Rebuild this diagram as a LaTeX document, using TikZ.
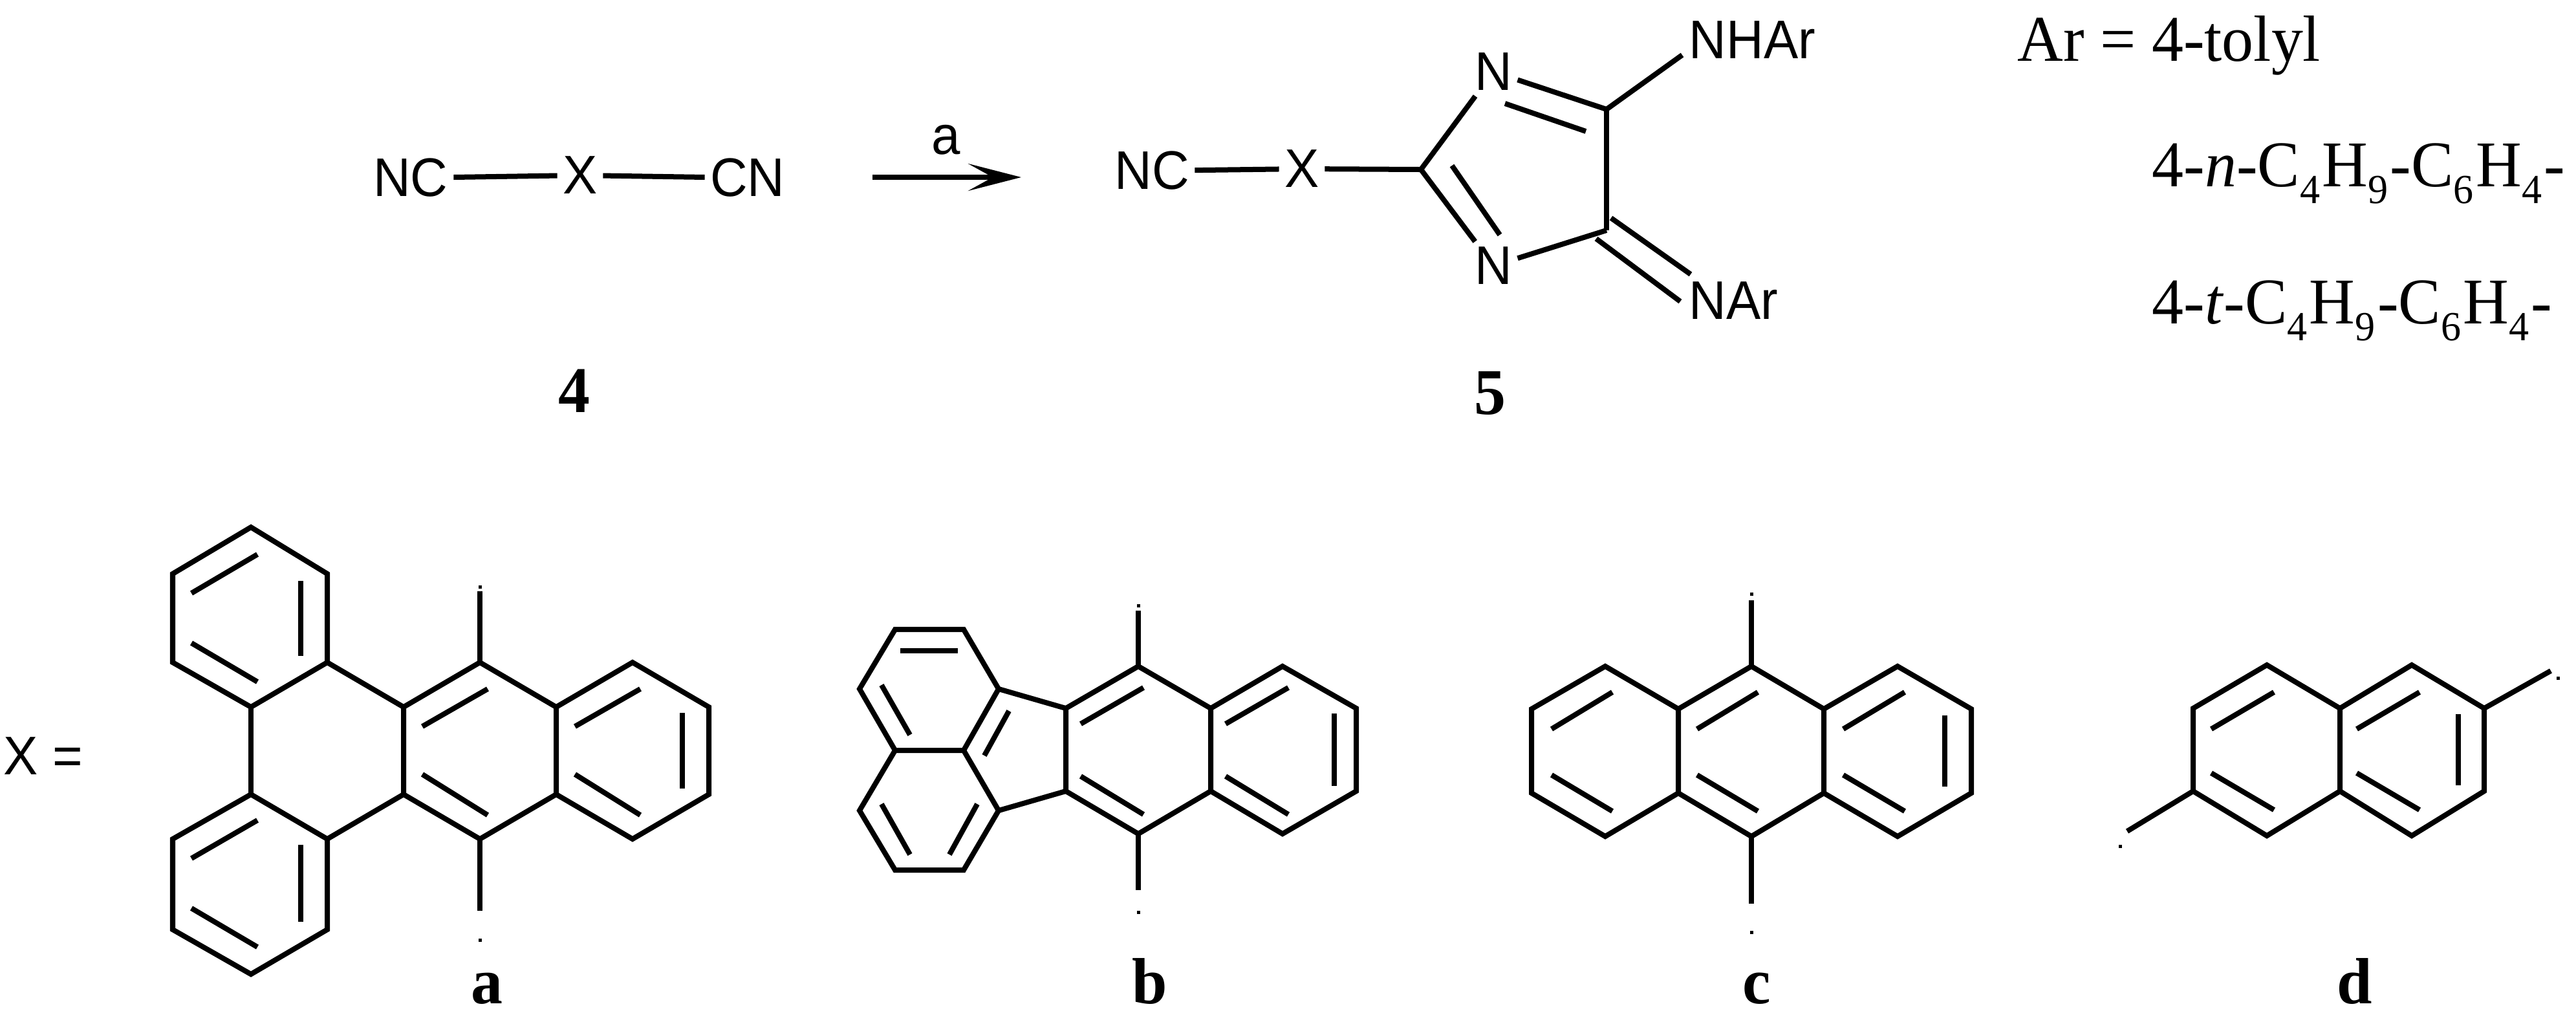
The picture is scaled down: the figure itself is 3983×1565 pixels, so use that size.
\documentclass[tikz,border=0pt]{standalone}
\usepackage{fontspec}
\usetikzlibrary{arrows.meta,calc}
\newfontfamily\chemfam[FakeStretch=0.95]{Liberation Sans}
\newfontfamily\textfam[FakeStretch=0.97]{Liberation Serif}
\newcommand{\subnum}[1]{\raisebox{-7.6pt}{\fontsize{18.2}{18}\selectfont #1}\kern1pt}
\tikzset{%
	bond/.style     	= {line width = 0.08cm, line join = miter, miter limit = 10},
	atom/.style     	= {font = \chemfam\fontsize{23.9}{24}\selectfont, inner sep = 0.08cm},
	formula/.style  	= {font = \textfam\fontsize{28.7}{29}\selectfont, inner sep = 0, anchor = base west},
	compound/.style 	= {font = \textfam\bfseries\fontsize{28.7}{29}\selectfont, inner sep = 0, anchor = base},
	tip/.style      	= {fill, inner sep = 0, minimum size = 0.05cm} % Dot at the end of a free bond
}

\begin{document}
\begin{tikzpicture}[x=0.01cm, y=-0.01cm]
	\useasboundingbox (0,0) rectangle (3983,1565);

	% Reaction line : 4 --> 5
	\node [atom] (nc4) at (635,275) {NC};
	\node [atom] (x4) at (897,271) {X};
	\node [atom] (cn4) at (1156,275) {CN};
	\draw[bond] (nc4) -- (x4);
	\draw[bond] (x4) -- (cn4);
	\node [compound] (label4) at (888,637) {4};
	\coordinate (arrowstart) at (1349,274);
	\coordinate (arrowend) at (1579,274);
	\draw[bond, -{Stealth[length=0.82cm, width=0.42cm, inset=0.38cm]}] (arrowstart) -- (arrowend);
	\node [atom, anchor=base, inner sep=0] (reagent) at (1463,238) {a};

	% Product 5
	\coordinate (c2) at (2197,262);
	\coordinate (c4) at (2484,169);
	\coordinate (c5) at (2484,356);
	\node [atom] (nc5) at (1781,264) {NC};
	\node [atom] (x5) at (2013,261) {X};
	\node [atom] (n1) at (2309,111) {N};
	\node [atom] (n3) at (2309,411) {N};
	\node [atom, anchor=base west, inner sep=0] (nhar) at (2611,90) {NHAr};
	\node [atom, anchor=base west, inner sep=0] (nar) at (2611,493) {NAr};
	\coordinate (nharend) at (2601,85);
	\coordinate (narenda) at (2614,424);
	\coordinate (narendb) at (2598,466);
	\coordinate (c5a) at (2491,337);
	\coordinate (c5b) at (2468,369);
	\coordinate (n1in) at (2327,160);
	\coordinate (c4in) at (2452,203);
	\coordinate (c2in) at (2245,256);
	\coordinate (n3in) at (2319,363);
	\draw[bond] (nc5) -- (x5);
	\draw[bond] (x5) -- (c2);
	\draw[bond] (c2) -- (n1);
	\draw[bond] (c2) -- (n3);
	\draw[bond] (n1) -- (c4);
	\draw[bond] (n3) -- (c5);
	\draw[bond] (c4) -- (c5);
	\draw[bond] (c4) -- (nharend);
	\draw[bond] (c5a) -- (narenda);
	\draw[bond] (c5b) -- (narendb);
	\draw[bond] (n1in) -- (c4in);
	\draw[bond] (c2in) -- (n3in);
	\node [compound] (label5) at (2304,640) {5};

	% Meanings of Ar
	\node [formula] (ar1) at (3119,94) {Ar = 4-tolyl};
	\node [formula] (ar2) at (3327,288) {4-\textit{n}-C\subnum{4}H\subnum{9}-C\subnum{6}H\subnum{4}-};
	\node [formula] (ar3) at (3327,500) {4-\textit{t}-C\subnum{4}H\subnum{9}-C\subnum{6}H\subnum{4}-};
	\node [atom, anchor=base west, inner sep=0] (xis) at (5,1197) {X =};

	% Atoms of a, b, c and d
	\foreach \n/\px/\py in {
		a1/388/815, a2/506/887, a3/506/1024, a4/388/1093, a5/267/1024, a6/267/887,
		a7/624/1093, a8/742/1024, a9/860/1093, a10/860/1228, a11/742/1297, a12/624/1228,
		a13/978/1024, a14/1096/1093, a15/1096/1228, a16/978/1297,
		a17/388/1228, a18/506/1297, a19/506/1437, a20/388/1506, a21/267/1437, a22/267/1297,
		a23/742/914, a24/742/1408,
		b1/1384/973, b2/1490/973, b3/1544/1065, b4/1490/1160, b5/1384/1160, b6/1329/1065,
		b7/1329/1253, b8/1384/1345, b9/1490/1345, b10/1544/1253,
		b11/1648/1095, b12/1760/1030, b13/1872/1095, b14/1872/1223, b15/1760/1289, b16/1648/1223,
		b17/1983/1030, b18/2097/1095, b19/2097/1223, b20/1983/1289, b21/1760/944, b22/1760/1376,
		c1/2482/1030, c2a/2595/1096, c3/2595/1226, c4a/2482/1293, c5c/2368/1226, c6/2368/1096,
		c7/2708/1030, c8/2820/1096, c9/2820/1226, c10/2708/1293,
		c11/2934/1030, c12/3048/1096, c13/3048/1226, c14/2934/1293, c15/2708/928, c16/2708/1397,
		d1/3505/1028, d2/3618/1095, d3/3618/1223, d4/3505/1292, d5/3391/1223, d6/3391/1095,
		d7/3729/1028, d8/3841/1095, d9/3841/1223, d10/3729/1292, d11/3289/1285, d12/3944/1037}
		\coordinate (\n) at (\px,\py);

	% Joining atoms. Closed rings are drawn as one path
	\draw[bond] (a1) -- (a2) -- (a3) -- (a4) -- (a5) -- (a6) -- cycle;
	\draw[bond] (a17) -- (a18) -- (a19) -- (a20) -- (a21) -- (a22) -- cycle;
	\draw[bond] (a8) -- (a9) -- (a10) -- (a11) -- (a12) -- (a7) -- cycle;
	\draw[bond] (a9) -- (a13) -- (a14) -- (a15) -- (a16) -- (a10);
	\draw[bond] (a3) -- (a7);
	\draw[bond] (a4) -- (a17);
	\draw[bond] (a18) -- (a12);
	\draw[bond] (a8) -- (a23);
	\draw[bond] (a11) -- (a24);
	\draw[bond] (b1) -- (b2) -- (b3) -- (b4) -- (b5) -- (b6) -- cycle;
	\draw[bond] (b5) -- (b7) -- (b8) -- (b9) -- (b10) -- (b4);
	\draw[bond] (b3) -- (b11);
	\draw[bond] (b10) -- (b16);
	\draw[bond] (b11) -- (b12) -- (b13) -- (b14) -- (b15) -- (b16) -- cycle;
	\draw[bond] (b13) -- (b17) -- (b18) -- (b19) -- (b20) -- (b14);
	\draw[bond] (b12) -- (b21);
	\draw[bond] (b15) -- (b22);
	\draw[bond] (c1) -- (c2a) -- (c3) -- (c4a) -- (c5c) -- (c6) -- cycle;
	\draw[bond] (c2a) -- (c7) -- (c8) -- (c9) -- (c10) -- (c3);
	\draw[bond] (c8) -- (c11) -- (c12) -- (c13) -- (c14) -- (c9);
	\draw[bond] (c7) -- (c15);
	\draw[bond] (c10) -- (c16);
	\draw[bond] (d1) -- (d2) -- (d3) -- (d4) -- (d5) -- (d6) -- cycle;
	\draw[bond] (d2) -- (d7) -- (d8) -- (d9) -- (d10) -- (d3);
	\draw[bond] (d5) -- (d11);
	\draw[bond] (d8) -- (d12);

	% Inner lines of the double bonds
	\foreach \n/\xa/\ya/\xb/\yb in {
		aa/296/917/398/857, ab/296/994/398/1054, ac/465/898/465/1014,
		ad/653/1123/754/1065, ae/653/1197/754/1260, af/889/1123/990/1065,
		ag/889/1197/990/1260, ah/1055/1102/1055/1219,
		ai/296/1327/398/1268, aj/296/1404/398/1464, ak/465/1306/465/1425,
		ba/1392/1006/1481/1006, bb/1363/1059/1407/1136, bc/1560/1099/1522/1168,
		bd/1363/1243/1407/1321, be/1511/1243/1468/1321, bf/1671/1119/1768/1063,
		bg/1671/1200/1768/1259, bh/1895/1119/1992/1063, bi/1895/1200/1992/1259,
		bj/2063/1103/2063/1215,
		ca/2399/1127/2493/1070, cb/2399/1198/2493/1254, cc/2624/1127/2718/1070,
		cd/2624/1198/2718/1254, ce/2850/1127/2945/1070, cf/2850/1198/2945/1254,
		cg/3007/1106/3007/1216,
		da/3419/1127/3516/1070, db/3419/1195/3516/1252, dc/3644/1127/3741/1070,
		dd/3644/1195/3741/1252, de/3801/1104/3801/1214}
	{
		\coordinate (\n s) at (\xa,\ya);
		\coordinate (\n e) at (\xb,\yb);
		\draw[bond] (\n s) -- (\n e);
	}

	% Small dots next to the free bonds
	\foreach \n/\px/\py in {
		ta/742/907, tb/742/1453, tc/1760/936, td/1760/1410, te/2708/918, tf/2708/1441,
		tg/3278/1308, th/3955/1048}
		\node [tip] (\n) at (\px,\py) {};

	\node [compound] (labela) at (753,1551) {a};
	\node [compound] (labelb) at (1778,1551) {b};
	\node [compound] (labelc) at (2716,1551) {c};
	\node [compound] (labeld) at (3641,1551) {d};
\end{tikzpicture}
\end{document}
